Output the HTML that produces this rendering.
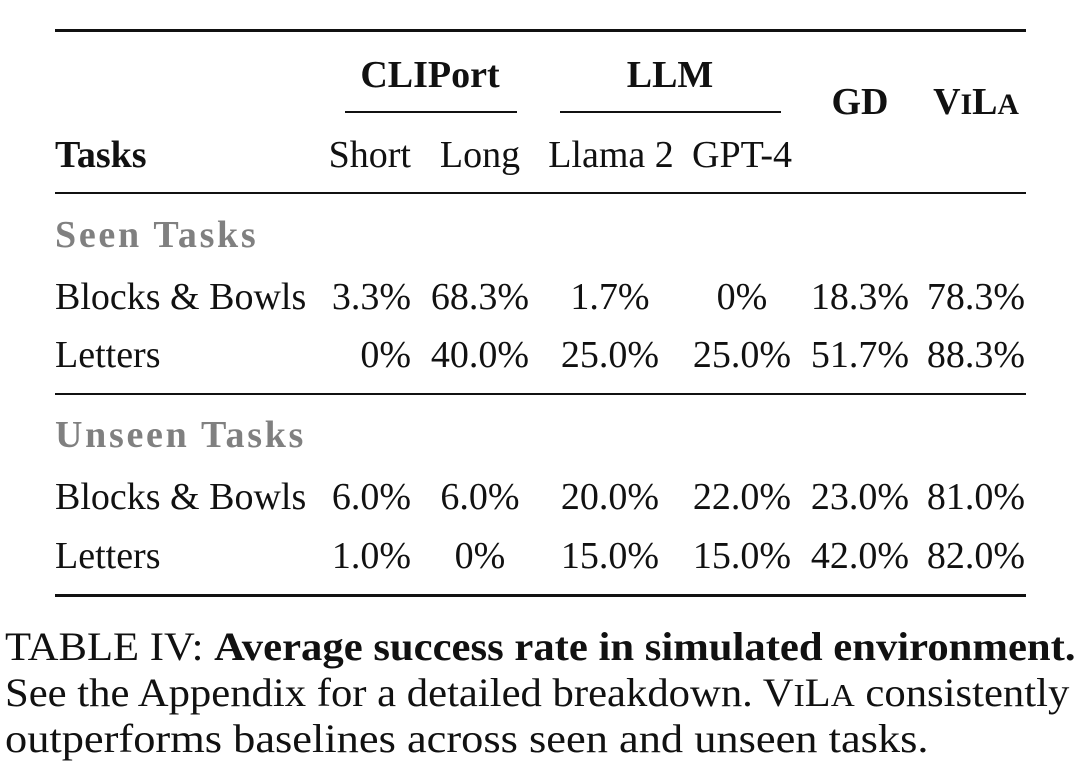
<!DOCTYPE html>
<html><head><meta charset="utf-8"><style>
body{margin:0;width:1080px;height:783px;background:#fff;position:relative;overflow:hidden;font-family:"Liberation Serif",serif;color:#111}
.t{position:absolute;font-size:38px;line-height:40px;white-space:nowrap}
.c{text-align:center}
.r{text-align:right}
.b{font-weight:bold}
.g{color:#808080;font-weight:bold;letter-spacing:2.7px}
.ln{position:absolute;background:#111}
.cap{position:absolute;left:5px;font-size:40px;line-height:44px;white-space:nowrap;transform-origin:0 0}
.sc{font-size:0.78em}
</style></head><body>
<div class="ln" style="left:55px;top:29px;width:971px;height:3px"></div>
<div class="ln" style="left:345px;top:111px;width:172px;height:2px"></div>
<div class="ln" style="left:560px;top:111px;width:221px;height:2px"></div>
<div class="ln" style="left:55px;top:192px;width:971px;height:2px"></div>
<div class="ln" style="left:55px;top:393px;width:971px;height:2px"></div>
<div class="ln" style="left:55px;top:594px;width:971px;height:3px"></div>

<div class="t c b" style="left:330px;width:200px;top:55px">CLIPort</div>
<div class="t c b" style="left:570px;width:200px;top:55px">LLM</div>
<div class="t c b" style="left:810px;width:100px;top:82px">GD</div>
<div class="t c b" style="left:916px;width:120px;top:82px">V<span class="sc">I</span>L<span class="sc">A</span></div>

<div class="t b" style="left:55px;top:135px">Tasks</div>
<div class="t r" style="left:290px;width:121px;top:135px">Short</div>
<div class="t c" style="left:420px;width:120px;top:135px">Long</div>
<div class="t c" style="left:540px;width:142px;top:135px">Llama 2</div>
<div class="t c" style="left:682px;width:120px;top:135px">GPT-4</div>

<div class="t g" style="left:55px;top:215px">Seen Tasks</div>
<div class="t g" style="left:55px;top:415px">Unseen Tasks</div>

<div class="t" style="left:55px;top:277px">Blocks &amp; Bowls</div>
<div class="t" style="left:55px;top:335px">Letters</div>
<div class="t" style="left:55px;top:477px">Blocks &amp; Bowls</div>
<div class="t" style="left:55px;top:536px">Letters</div>

<div class="t r" style="left:290px;width:121px;top:277px">3.3%</div>
<div class="t r" style="left:290px;width:121px;top:335px">0%</div>
<div class="t r" style="left:290px;width:121px;top:477px">6.0%</div>
<div class="t r" style="left:290px;width:121px;top:536px">1.0%</div>

<div class="t c" style="left:420px;width:120px;top:277px">68.3%</div>
<div class="t c" style="left:420px;width:120px;top:335px">40.0%</div>
<div class="t c" style="left:420px;width:120px;top:477px">6.0%</div>
<div class="t c" style="left:420px;width:120px;top:536px">0%</div>

<div class="t c" style="left:550px;width:120px;top:277px">1.7%</div>
<div class="t c" style="left:550px;width:120px;top:335px">25.0%</div>
<div class="t c" style="left:550px;width:120px;top:477px">20.0%</div>
<div class="t c" style="left:550px;width:120px;top:536px">15.0%</div>

<div class="t c" style="left:682px;width:120px;top:277px">0%</div>
<div class="t c" style="left:682px;width:120px;top:335px">25.0%</div>
<div class="t c" style="left:682px;width:120px;top:477px">22.0%</div>
<div class="t c" style="left:682px;width:120px;top:536px">15.0%</div>

<div class="t c" style="left:800px;width:120px;top:277px">18.3%</div>
<div class="t c" style="left:800px;width:120px;top:335px">51.7%</div>
<div class="t c" style="left:800px;width:120px;top:477px">23.0%</div>
<div class="t c" style="left:800px;width:120px;top:536px">42.0%</div>

<div class="t c" style="left:916px;width:120px;top:277px">78.3%</div>
<div class="t c" style="left:916px;width:120px;top:335px">88.3%</div>
<div class="t c" style="left:916px;width:120px;top:477px">81.0%</div>
<div class="t c" style="left:916px;width:120px;top:536px">82.0%</div>

<div class="cap" style="top:625px;transform:scaleX(1.067)">TABLE IV: <b>Average success rate in simulated environment.</b></div>
<div class="cap" style="top:671px;transform:scaleX(1.067)">See the Appendix for a detailed breakdown. V<span class="sc">I</span>L<span class="sc">A</span> consistently</div>
<div class="cap" style="top:717px;transform:scaleX(1.11)">outperforms baselines across seen and unseen tasks.</div>
</body></html>
